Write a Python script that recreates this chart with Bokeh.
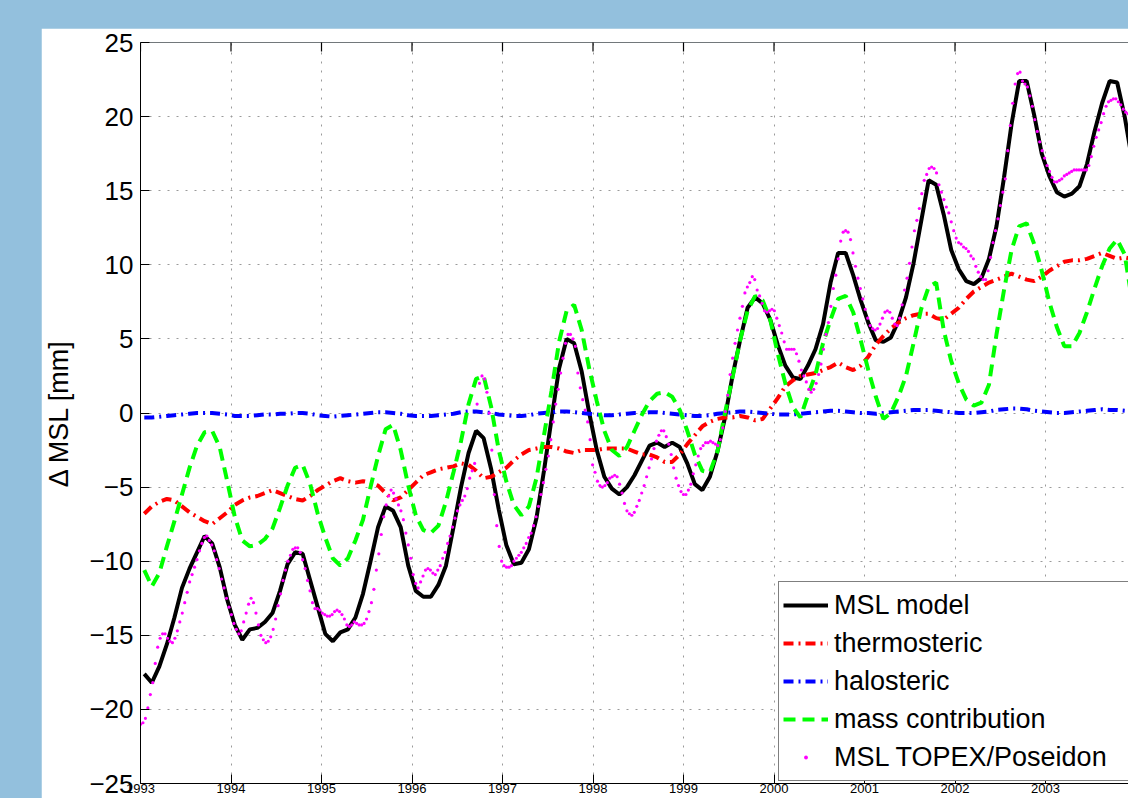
import numpy as np
from bokeh.plotting import figure
from bokeh.models import (Range1d, FixedTicker, Legend, LegendItem, Span,
                          GlobalInlineStyleSheet, CustomJSTickFormatter)
from bokeh.embed import file_html
from bokeh.resources import INLINE

FONT = "Liberation Sans"

# ---------------- data (monthly, mid-month, Jan 1993 .. Dec 2003) ----------------
msl_model = [
    -17.6, -18.2, -17.1, -15.6, -13.8, -11.8, -10.5, -9.4, -8.3, -8.8, -10.4, -12.6,
    -14.3, -15.3, -14.6, -14.5, -14.1, -13.5, -12.0, -10.2, -9.4, -9.5, -11.3, -13.1,
    -14.9, -15.4, -14.8, -14.6, -13.8, -12.2, -10.0, -7.7, -6.3, -6.6, -7.7, -10.3,
    -12.0, -12.4, -12.4, -11.6, -10.3, -7.7, -5.0, -2.7, -1.2, -1.7, -3.8, -6.5,
    -8.9, -10.2, -10.1, -9.2, -7.1, -3.9, -0.4, 3.0, 5.0, 4.7, 2.8, 0.0,
    -2.5, -4.3, -5.1, -5.5, -5.0, -4.2, -3.2, -2.2, -2.0, -2.3, -2.0, -2.3,
    -3.4, -4.8, -5.2, -4.3, -2.6, -0.3, 2.5, 4.9, 7.1, 7.8, 7.4, 6.3,
    4.6, 3.2, 2.4, 2.3, 3.2, 4.3, 6.0, 8.8, 10.8, 10.8, 9.3, 7.6,
    6.1, 4.9, 4.8, 5.1, 6.2, 7.8, 10.1, 12.9, 15.7, 15.4, 13.4, 11.0,
    9.7, 8.9, 8.7, 9.1, 10.4, 12.6, 15.9, 19.5, 22.4, 22.4, 20.1, 17.5,
    16.0, 14.9, 14.6, 14.8, 15.3, 16.8, 19.0, 20.9, 22.4, 22.3, 20.0, 17.0,
]

thermosteric = [
    -6.8, -6.3, -6.0, -5.8, -5.9, -6.3, -6.7, -7.0, -7.3, -7.5, -7.1, -6.7,
    -6.2, -5.9, -5.7, -5.6, -5.4, -5.2, -5.4, -5.6, -5.8, -5.9, -5.6, -5.2,
    -4.9, -4.6, -4.4, -4.6, -4.7, -4.6, -4.7, -4.9, -5.4, -5.9, -5.7, -5.2,
    -4.7, -4.2, -4.0, -3.8, -3.7, -3.6, -3.4, -3.5, -3.9, -4.4, -4.3, -4.0,
    -3.7, -3.2, -2.8, -2.5, -2.4, -2.3, -2.3, -2.4, -2.6, -2.7, -2.5, -2.5,
    -2.5, -2.4, -2.4, -2.4, -2.4, -2.6, -2.8, -2.8, -3.0, -3.3, -3.3, -2.8,
    -2.1, -1.5, -0.9, -0.6, -0.4, -0.3, -0.3, -0.2, -0.3, -0.5, -0.4, 0.3,
    1.0, 1.8, 2.2, 2.5, 2.6, 2.7, 2.9, 3.1, 3.4, 3.1, 2.9, 3.2,
    3.8, 4.6, 5.2, 5.7, 6.1, 6.4, 6.6, 6.7, 6.7, 6.4, 6.3, 6.7,
    7.1, 7.7, 8.2, 8.5, 8.8, 9.0, 9.2, 9.4, 9.2, 9.0, 8.9, 9.2,
    9.6, 9.9, 10.2, 10.3, 10.3, 10.4, 10.6, 10.8, 10.6, 10.4, 10.5, 10.4,
]

halosteric = [
    -0.3, -0.3, -0.25, -0.2, -0.15, -0.1, -0.05, 0.0, 0.0, 0.0, -0.05, -0.1,
    -0.2, -0.2, -0.2, -0.15, -0.1, -0.1, -0.05, -0.05, 0.0, 0.0, -0.05, -0.15,
    -0.2, -0.25, -0.2, -0.15, -0.1, -0.05, 0.0, 0.05, 0.05, 0.0, -0.05, -0.15,
    -0.2, -0.2, -0.2, -0.15, -0.1, -0.05, 0.05, 0.1, 0.1, 0.05, 0.0, -0.1,
    -0.15, -0.2, -0.2, -0.15, -0.05, 0.0, 0.05, 0.1, 0.1, 0.05, 0.0, -0.05,
    -0.1, -0.15, -0.15, -0.1, -0.05, 0.0, 0.0, 0.05, 0.05, 0.0, -0.05, -0.1,
    -0.15, -0.2, -0.2, -0.15, -0.05, 0.0, 0.05, 0.1, 0.1, 0.05, 0.0, -0.05,
    -0.1, -0.1, -0.1, -0.05, 0.0, 0.05, 0.1, 0.15, 0.15, 0.1, 0.05, 0.0,
    0.0, -0.05, 0.0, 0.05, 0.1, 0.15, 0.2, 0.2, 0.2, 0.15, 0.1, 0.05,
    0.0, 0.0, 0.0, 0.05, 0.1, 0.2, 0.25, 0.3, 0.3, 0.25, 0.15, 0.1,
    0.05, 0.0, 0.0, 0.05, 0.1, 0.15, 0.2, 0.25, 0.2, 0.2, 0.15, 0.1,
]

mass_contribution = [
    -10.6, -11.7, -10.8, -9.0, -7.3, -5.5, -3.7, -2.2, -1.3, -1.2, -2.3, -4.6,
    -7.0, -8.6, -9.0, -8.9, -8.5, -7.8, -6.4, -4.9, -3.7, -3.5, -4.8, -6.8,
    -8.4, -9.8, -10.3, -9.8, -8.6, -7.2, -5.0, -2.9, -1.1, -0.8, -2.5, -4.9,
    -6.9, -7.9, -8.1, -7.6, -6.0, -4.0, -1.9, 0.6, 2.3, 2.5, 0.4, -2.5,
    -4.6, -6.2, -6.9, -6.3, -4.4, -1.5, 1.5, 4.8, 6.9, 7.3, 5.6, 3.0,
    0.8, -1.2, -2.5, -2.9, -2.3, -1.2, -0.1, 0.8, 1.3, 1.4, 1.1, 0.2,
    -1.2, -2.8, -3.9, -4.0, -2.6, 0.0, 2.4, 4.9, 6.9, 7.9, 7.6, 6.3,
    4.0, 2.0, 0.4, -0.3, 1.2, 2.6, 4.7, 6.3, 7.7, 7.9, 6.8, 4.9,
    2.9, 1.1, -0.4, 0.0, 1.1, 2.5, 4.7, 7.0, 8.5, 8.8, 5.6, 3.5,
    2.0, 0.9, 0.5, 0.7, 1.9, 5.3, 8.3, 11.0, 12.6, 12.8, 11.4, 9.6,
    7.5, 5.8, 4.5, 4.5, 5.4, 6.8, 8.4, 9.9, 11.1, 11.7, 10.7, 7.5,
]

# TOPEX/Poseidon, one value per 9.9156-day repeat cycle starting Jan 1993
topex_msl = [
    -21.0, -20.9, -20.6, -19.9, -19.0, -18.2, -16.9, -15.8, -15.2, -14.9,
    -14.9, -15.2, -15.4, -15.5, -15.2, -14.7, -14.1, -13.5, -12.8, -12.1,
    -11.4, -10.9, -10.4, -9.9, -9.3, -8.8, -8.4, -8.3, -8.6, -8.9,
    -9.3, -9.9, -10.5, -11.2, -11.8, -12.5, -13.1, -13.6, -14.2, -14.6,
    -14.9, -14.7, -14.1, -13.5, -12.9, -12.5, -12.8, -13.5, -14.3, -15.0,
    -15.3, -15.5, -15.4, -15.1, -14.6, -13.9, -13.0, -12.2, -11.3, -10.6,
    -10.0, -9.6, -9.2, -9.1, -9.1, -9.4, -9.9, -10.5, -11.3, -12.0,
    -12.8, -13.2, -13.2, -13.3, -13.5, -13.6, -13.7, -13.7, -13.6, -13.4,
    -13.3, -13.4, -13.6, -13.9, -14.3, -14.4, -14.3, -14.1, -14.2, -14.3,
    -14.3, -14.2, -13.9, -13.4, -12.8, -11.9, -10.6, -9.5, -8.2, -7.0,
    -6.2, -5.6, -5.2, -5.4, -5.8, -6.2, -6.6, -7.2, -8.1, -8.9,
    -9.8, -10.9, -11.5, -11.8, -11.4, -11.0, -10.6, -10.5, -10.6, -10.8,
    -10.9, -10.6, -10.3, -9.8, -9.4, -8.8, -8.3, -7.7, -7.1, -6.6,
    -6.2, -5.9, -5.6, -5.1, -4.4, -3.9, -3.4, 0.6, 2.0, 2.5,
    2.3, 1.4, 0.0, -2.5, -5.5, -7.6, -9.0, -10.0, -10.3, -10.4,
    -10.4, -10.3, -10.0, -9.8, -9.6, -9.4, -9.1, -8.8, -8.4, -8.1,
    -7.6, -7.0, -6.3, -5.5, -4.7, -3.8, -2.9, -1.8, -0.6, 0.6,
    1.6, 2.7, 3.7, 4.7, 5.3, 5.3, 5.0, 4.5, 2.7, 1.7,
    0.9, 0.2, -0.6, -1.8, -3.5, -4.0, -4.6, -4.9, -5.0, -4.9,
    -4.7, -4.4, -4.3, -4.2, -4.3, -4.8, -5.4, -6.1, -6.6, -6.8,
    -6.9, -6.7, -6.3, -5.9, -5.4, -4.9, -4.3, -3.7, -3.1, -2.4,
    -1.9, -1.5, -1.2, -1.2, -1.6, -2.1, -2.8, -3.7, -4.4, -4.9,
    -5.3, -5.5, -5.5, -5.2, -4.8, -4.1, -3.5, -2.9, -2.4, -2.2,
    -2.0, -2.0, -1.9, -2.0, -2.1, -2.2, -1.8, -1.0, 0.1, 1.2,
    2.6, 3.7, 4.7, 5.6, 6.4, 7.2, 8.1, 8.5, 8.8, 9.2,
    9.0, 8.3, 7.9, 7.4, 6.9, 6.8, 6.9, 7.0, 6.9, 6.4,
    5.9, 5.4, 4.8, 4.3, 4.3, 4.3, 4.3, 4.0, 3.5, 2.9,
    2.5, 2.1, 1.6, 1.4, 1.6, 2.0, 2.6, 3.3, 4.3, 5.3,
    6.1, 7.2, 8.4, 9.3, 10.4, 11.6, 12.2, 12.3, 12.2, 11.7,
    10.8, 9.9, 9.1, 8.4, 7.7, 7.0, 6.4, 5.9, 5.7, 5.6,
    5.7, 6.0, 6.4, 6.8, 6.9, 6.8, 6.4, 6.0, 5.9, 6.4,
    7.3, 8.3, 9.1, 10.1, 11.2, 12.3, 13.0, 13.8, 14.8, 15.7,
    16.1, 16.5, 16.6, 16.5, 16.2, 15.4, 14.9, 14.4, 13.9, 13.5,
    12.9, 12.3, 11.8, 11.5, 11.4, 11.2, 11.1, 10.9, 10.6, 10.4,
    9.9, 9.5, 9.2, 9.0, 9.0, 9.6, 10.5, 11.5, 12.3, 13.1,
    14.0, 14.9, 15.8, 17.7, 19.4, 20.9, 22.2, 22.9, 23.0, 22.4,
    22.2, 22.0, 21.4, 20.7, 19.8, 19.0, 18.3, 17.7, 17.2, 16.7,
    16.3, 15.9, 15.6, 15.6, 15.7, 15.8, 16.0, 16.1, 16.2, 16.3,
    16.4, 16.4, 16.4, 16.4, 16.4, 16.4, 16.7, 17.3, 18.0, 18.6,
    19.1, 19.6, 20.2, 20.7, 21.0, 21.1, 21.2, 21.2, 21.0, 20.8,
    20.5, 20.3, 20.2,
]

year_ticks = [1993, 1994, 1995, 1996, 1997, 1998, 1999, 2000, 2001, 2002, 2003, 2004]
y_ticks = [-25, -20, -15, -10, -5, 0, 5, 10, 15, 20, 25]
series_labels = ["MSL model", "thermosteric", "halosteric", "mass contribution",
                 "MSL TOPEX/Poseidon"]

# time axes
month_t = [1993 + (i + 0.5) / 12 for i in range(len(msl_model))]
topex_t = [1993 + i * 9.9156 / 365.25 for i in range(len(topex_msl))]

# ---------------- figure ----------------
p = figure(width=1087, height=770, output_backend="svg", toolbar_location=None,
           x_range=Range1d(1993, 2003.917), y_range=Range1d(y_ticks[0], y_ticks[-1]),
           min_border_left=99, min_border_right=0, min_border_top=14, min_border_bottom=15,
           background_fill_color="white", border_fill_color="white",
           outline_line_color=None, margin=(28, 0, 0, 41))
p.stylesheets = [GlobalInlineStyleSheet(
    css="html, body { margin: 0; padding: 0; background: #93c0dd; overflow: hidden; }")]

# grid
for g, tk in ((p.xgrid[0], year_ticks), (p.ygrid[0], y_ticks)):
    g.ticker = FixedTicker(ticks=tk)
    g.grid_line_color = "#9a9a9a"
    g.grid_line_dash = "2 7"
    g.grid_line_width = 1

# bottom axis
xa = p.xaxis[0]
xa.ticker = FixedTicker(ticks=year_ticks)
xa.major_label_text_font = FONT
xa.major_label_text_font_size = "13px"
xa.major_label_text_color = "black"
xa.major_label_standoff = 0
xa.major_tick_in = 9
xa.major_tick_out = 0
xa.minor_tick_line_color = None
xa.axis_line_color = "black"
xa.major_tick_line_color = "black"

# left axis
ya = p.yaxis[0]
ya.ticker = FixedTicker(ticks=y_ticks)
ya.formatter = CustomJSTickFormatter(
    code="return tick < 0 ? '\u2212' + String(-tick) : String(tick);")
ya.major_label_text_font = FONT
ya.major_label_text_font_size = "26px"
ya.major_label_text_color = "black"
ya.major_label_standoff = 7
ya.major_tick_in = 9
ya.major_tick_out = 0
ya.minor_tick_line_color = None
ya.axis_line_color = "black"
ya.major_tick_line_color = "black"
ya.axis_label = "\u0394 MSL [mm]"
ya.axis_label_text_font = FONT
ya.axis_label_text_font_size = "27px"
ya.axis_label_text_font_style = "normal"
ya.axis_label_text_color = "black"
ya.axis_label_standoff = 12

# top edge of the box with inward ticks
p.add_layout(Span(location=y_ticks[-1], dimension="width", line_color="black",
                  line_width=1))
p.scatter(year_ticks, [y_ticks[-1]] * len(year_ticks), marker="dash", size=18,
          angle=np.pi / 2, line_color="black", line_width=1.2)

# ---------------- series ----------------
r_msl = p.line(month_t, msl_model, line_color="black", line_width=4)
r_th = p.line(month_t, thermosteric, line_color="#ff0000", line_width=4,
              line_dash="10 5 2 5")
r_ha = p.line(month_t, halosteric, line_color="#0000ff", line_width=4,
              line_dash="10 5 2 5")
r_ma = p.line(month_t, mass_contribution, line_color="#00ff00", line_width=4,
              line_dash="12 7")
r_tp = p.scatter(topex_t, topex_msl, marker="circle", size=3.2,
                 fill_color="#ff00ff", line_color=None)
# legend key: small magenta point (drawn over the first TOPEX sample)
r_tp_key = p.scatter(x=topex_t[:1], y=topex_msl[:1], marker="dot", size=10,
                     line_color="#ff00ff", fill_color="#ff00ff", line_width=1)

legend = Legend(
    items=[LegendItem(label=lab, renderers=[r])
           for lab, r in zip(series_labels, [r_msl, r_th, r_ha, r_ma, r_tp_key])],
    location=(638, 2),
    label_text_font=FONT, label_text_font_size="27px", label_text_color="black",
    glyph_width=45, glyph_height=38, label_height=38, label_width=330,
    label_standoff=6, spacing=0, padding=4, margin=0,
    border_line_color="black", border_line_width=1.2,
    background_fill_color="white", background_fill_alpha=1.0,
)
p.add_layout(legend)

html = file_html(p, INLINE, title="MSL")
with open("out.html", "w", encoding="utf-8") as f:
    f.write(html)
